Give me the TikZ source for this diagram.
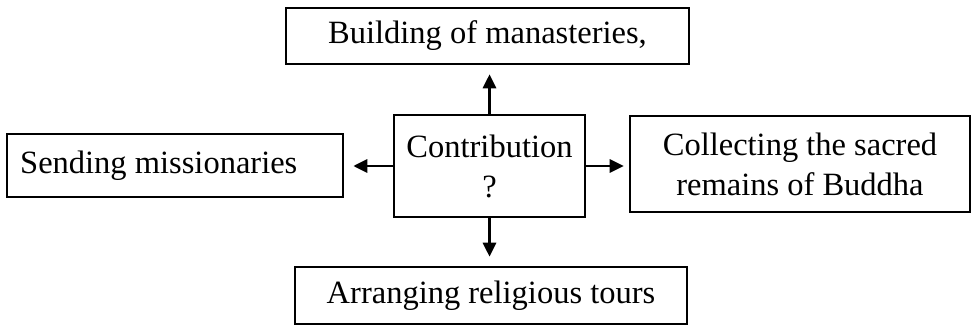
\documentclass[tikz,border=0pt]{standalone}
\usepackage{fontspec}
\setmainfont{Liberation Serif}
\usetikzlibrary{arrows.meta}
\begin{document}
\begin{tikzpicture}[x=1pt,y=-1pt,
  txt/.style={inner sep=0pt,align=center,font=\fontsize{32.5}{40}\selectfont},
  box/.style={txt,draw=black,line width=2.6pt},
  conn/.style={line width=2.8pt,-{Triangle[length=14pt,width=13pt]}}]
\useasboundingbox (0,0) rectangle (972,326);
\node[box,minimum width=403pt,minimum height=56pt] (top) at (487.5,36) {Building of manasteries,};
\node[box,minimum width=336pt,minimum height=63pt] (left) at (175,165.5) {};
\node[txt,anchor=west] (lefttext) at (20,165.5) {Sending missionaries};
\node[box,minimum width=191pt,minimum height=102pt] (center) at (489.5,166) {Contribution\\?};
\node[box,minimum width=340pt,minimum height=96pt] (right) at (800,164) {Collecting the sacred\\remains of Buddha};
\node[box,minimum width=392pt,minimum height=57pt] (bottom) at (491,295.5) {Arranging religious tours};
\draw[conn,shorten >=9pt] (center.north) -- (center.north |- top.south);
\draw[conn,shorten >=9pt] (center.south) -- (center.south |- bottom.north);
\draw[conn,shorten >=9pt] (center.west) -- (center.west -| left.east);
\draw[conn,shorten >=5pt] (center.east) -- (center.east -| right.west);
\end{tikzpicture}
\end{document}
